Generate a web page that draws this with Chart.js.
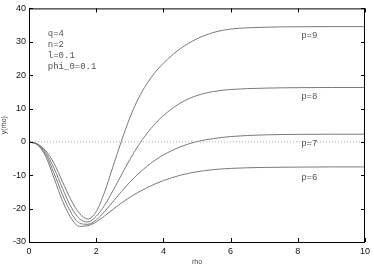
<!DOCTYPE html>
<html>
<head>
<meta charset="utf-8">
<script src="https://cdn.jsdelivr.net/npm/chart.js@4"></script>
<style>
	body { margin: 0; background: #fff; }
	canvas { display: block; }
</style>
</head>
<body>
<canvas id="c" width="374" height="267"></canvas>
<script>
// rho grid and y(rho) for each p
const rho = [0, 0.25, 0.5, 0.75, 1, 1.25, 1.5, 1.75, 2, 2.25, 2.5, 2.75, 3, 3.25, 3.5, 3.75, 4, 4.5, 5, 5.5, 6, 7, 8, 9, 10]
const p6 = [0, -0.9, -4.4, -11.0, -17.8, -22.8, -25.3, -25.1, -24.0, -22.2, -20.2, -18.3, -16.6, -15.1, -13.8, -12.6, -11.6, -10.0, -8.95, -8.3, -7.95, -7.65, -7.55, -7.5, -7.5]
const p7 = [0, -0.8, -3.8, -9.5, -15.9, -21.2, -24.3, -24.7, -23.4, -20.9, -17.9, -14.9, -12.1, -9.6, -7.4, -5.5, -3.9, -1.5, 0.1, 1.0, 1.6, 2.1, 2.25, 2.3, 2.3]
const p8 = [0, -0.7, -3.2, -8.0, -14.0, -19.5, -23.0, -24.0, -22.3, -19.0, -14.6, -9.9, -5.3, -1.2, 2.4, 5.4, 7.9, 11.6, 13.9, 15.1, 15.7, 16.1, 16.25, 16.3, 16.3]
const p9 = [0, -0.6, -2.7, -6.5, -12.0, -17.4, -21.4, -23.1, -20.9, -15.0, -7.4, 0.2, 7.2, 12.9, 17.3, 20.8, 23.6, 27.9, 30.9, 32.8, 33.8, 34.35, 34.5, 34.55, 34.55]

// curve labels (rho, y)
const curveLabels = ['p=9', 'p=8', 'p=7', 'p=6']
const curveLabelX = [8.1, 8.1, 8.1, 8.1]
const curveLabelY = [31.8, 13.6, -0.6, -10.6]

// parameter text
const params = ['q=4', 'n=2', 'l=0.1', 'phi_0=0.1']

const xTicks = [0, 2, 4, 6, 8, 10]
const yTicks = [-30, -20, -10, 0, 10, 20, 30, 40]

function pts(ys) {
	return rho.map((r, i) => ({ x: r, y: ys[i] }))
}

function curve(ys) {
	return {
		data: pts(ys),
		borderColor: '#7a7a7a',
		borderWidth: 1,
		pointRadius: 0,
		cubicInterpolationMode: 'monotone',
		fill: false,
	}
}

const zeroLine = {
	data: [{ x: 0, y: 0 }, { x: 10, y: 0 }],
	borderColor: '#aaa',
	borderWidth: 1,
	borderDash: [1, 2],
	pointRadius: 0,
}

const frame = {
	id: 'frame',
	afterDatasetsDraw(chart) {
		const ctx = chart.ctx
		const a = chart.chartArea
		const x = chart.scales.x
		const y = chart.scales.y
		ctx.save()
		ctx.strokeStyle = '#000'
		ctx.lineWidth = 1
		ctx.strokeRect(a.left + 0.5, a.top + 0.5, a.right - a.left - 1, a.bottom - a.top)
		ctx.beginPath()
		xTicks.forEach(v => {
			const px = Math.round(x.getPixelForValue(v)) + 0.5
			ctx.moveTo(px, a.bottom); ctx.lineTo(px, a.bottom - 4)
			ctx.moveTo(px, a.top); ctx.lineTo(px, a.top + 4)
		})
		yTicks.forEach(v => {
			const py = Math.round(y.getPixelForValue(v)) + 0.5
			ctx.moveTo(a.left, py); ctx.lineTo(a.left + 4, py)
			ctx.moveTo(a.right, py); ctx.lineTo(a.right - 4, py)
		})
		ctx.stroke()

		ctx.fillStyle = '#555'
		ctx.font = '9px "Liberation Mono", monospace'
		ctx.textBaseline = 'middle'
		curveLabels.forEach((t, i) => {
			ctx.fillText(t, x.getPixelForValue(curveLabelX[i]), y.getPixelForValue(curveLabelY[i]))
		})
		params.forEach((t, i) => {
			ctx.fillText(t, x.getPixelForValue(0.56), y.getPixelForValue(32.4) + i * 10.8)
		})
		ctx.restore()
	},
}

new Chart(document.getElementById('c').getContext('2d'), {
	type: 'line',
	data: {
		datasets: [zeroLine, curve(p6), curve(p7), curve(p8), curve(p9)],
	},
	options: {
		responsive: false,
		animation: false,
		layout: { padding: { left: 0, right: 7, top: 5, bottom: 0 } },
		plugins: { legend: { display: false }, tooltip: { enabled: false } },
		scales: {
			x: {
				type: 'linear',
				min: 0,
				max: 10,
				afterFit: s => { s.height = 25 },
				afterBuildTicks: s => { s.ticks = xTicks.map(v => ({ value: v })) },
				grid: { display: false, drawTicks: false },
				border: { display: false },
				ticks: { padding: 4, color: '#111', font: { family: 'Liberation Sans', size: 9 }, maxRotation: 0 },
				title: { display: true, text: 'rho', color: '#444', font: { family: 'Liberation Sans', size: 7 }, padding: { top: 0, bottom: 1 } },
			},
			y: {
				min: -30,
				max: 40,
				afterFit: s => { s.width = 29 },
				afterBuildTicks: s => { s.ticks = yTicks.map(v => ({ value: v })) },
				grid: { display: false, drawTicks: false },
				border: { display: false },
				ticks: { padding: 3, color: '#111', font: { family: 'Liberation Sans', size: 9 } },
				title: { display: true, text: 'y(rho)', color: '#444', font: { family: 'Liberation Sans', size: 7 }, padding: { top: 0, bottom: 0 } },
			},
		},
	},
	plugins: [frame],
})
</script>
</body>
</html>
